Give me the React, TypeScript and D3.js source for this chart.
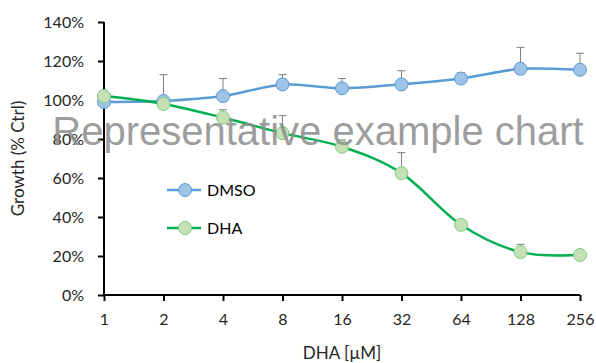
import * as d3 from "d3";
import { useEffect, useRef } from "react";

const doses = ["1", "2", "4", "8", "16", "32", "64", "128", "256"];
const dmsoMean = [99, 99.5, 102, 108, 106, 108, 111, 116, 115.5];
const dmsoErr = [0, 13.5, 9, 5, 5, 7, 3, 11, 8.5];
const dhaMean = [102, 98, 91, 83, 76, 62.5, 36, 22, 20.5];
const dhaErr = [2, 2.5, 4, 9, 3.5, 10.5, 2, 4, 2.5];
const yTicks = [0, 20, 40, 60, 80, 100, 120, 140];

const SERIES = [
  { name: "DMSO", mean: dmsoMean, err: dmsoErr, line: "#5b9bd5", fill: "#9dc3e6", stroke: "#5b9bd5", curve: d3.curveCardinal.tension(0.3) },
  { name: "DHA", mean: dhaMean, err: dhaErr, line: "#00b050", fill: "#c5e0b4", stroke: "#7fcc7f", curve: d3.curveCardinal.tension(0) },
];

const FONT = "Lato, 'Open Sans', sans-serif";

export default function App() {
  const ref = useRef<SVGSVGElement>(null);

  useEffect(() => {
    if (!ref.current) return;
    const svg = d3.select(ref.current);
    svg.selectAll("*").remove();

    const width = 596;
    const height = 363;
    const margin = { top: 22, right: 16, bottom: 68, left: 104 };
    const innerW = width - margin.left - margin.right;
    const innerH = height - margin.top - margin.bottom;

    const x = d3.scalePoint().domain(doses).range([0, innerW]);
    const y = d3.scaleLinear().domain([0, 140]).range([innerH, 0]);

    const g = svg.append("g").attr("transform", `translate(${margin.left},${margin.top})`);

    // axes
    const yAxis = g.append("g").call(
      d3.axisLeft(y).tickValues(yTicks).tickFormat((d) => `${d}%`).tickSize(6).tickPadding(14)
    );
    const xAxis = g
      .append("g")
      .attr("transform", `translate(0,${innerH})`)
      .call(d3.axisBottom(x).tickSize(6).tickPadding(13));
    [yAxis, xAxis].forEach((a) => {
      a.select(".domain").attr("stroke", "#000").attr("stroke-width", 2);
      a.selectAll(".tick line").attr("stroke", "#000").attr("stroke-width", 2);
      a.selectAll("text").style("font-family", FONT).style("font-size", "16px").attr("fill", "#262626");
    });
    xAxis.select(".domain").attr("d", `M0,0H${innerW}`);
    yAxis.select(".domain").attr("d", `M0,0V${innerH}`);

    // error bars (upper only)
    SERIES.forEach((s) => {
      const eg = g.append("g");
      s.mean.forEach((m, i) => {
        const cx = x(doses[i]) ?? 0;
        const top = y(m + s.err[i]);
        eg.append("line").attr("x1", cx).attr("x2", cx).attr("y1", y(m)).attr("y2", top).attr("stroke", "#7f7f7f").attr("stroke-width", 1);
        eg.append("line").attr("x1", cx - 4).attr("x2", cx + 4).attr("y1", top).attr("y2", top).attr("stroke", "#7f7f7f").attr("stroke-width", 1);
      });
    });

    // lines
    SERIES.forEach((s) => {
      const line = d3
        .line<number>()
        .x((_, i) => x(doses[i]) ?? 0)
        .y((d) => y(d))
        .curve(s.curve);
      g.append("path").attr("d", line(s.mean)).attr("fill", "none").attr("stroke", s.line).attr("stroke-width", 2.5);
    });

    // markers
    SERIES.forEach((s) => {
      g.append("g")
        .selectAll("circle")
        .data(s.mean)
        .join("circle")
        .attr("cx", (_, i) => x(doses[i]) ?? 0)
        .attr("cy", (d) => y(d))
        .attr("r", 6.5)
        .attr("fill", s.fill)
        .attr("stroke", s.stroke)
        .attr("stroke-width", 1);
    });

    // legend
    SERIES.forEach((s, i) => {
      const ly = 190 - margin.top + i * 38;
      const lg = g.append("g").attr("transform", `translate(${167 - margin.left},${ly})`);
      lg.append("line").attr("x1", 0).attr("x2", 34).attr("stroke", s.line).attr("stroke-width", 2.5);
      lg.append("circle").attr("cx", 18).attr("r", 6.5).attr("fill", s.fill).attr("stroke", s.stroke);
      lg.append("text").attr("x", 40).attr("dy", "0.35em").text(s.name)
        .style("font-family", FONT).style("font-size", "16px").attr("fill", "#000");
    });

    // axis titles
    svg.append("text")
      .attr("transform", `translate(24,${margin.top + innerH / 2}) rotate(-90)`)
      .attr("text-anchor", "middle")
      .style("font-family", FONT).style("font-size", "17px").attr("fill", "#262626")
      .text("Growth (% Ctrl)");
    svg.append("text")
      .attr("x", margin.left + innerW / 2)
      .attr("y", 359)
      .attr("text-anchor", "middle")
      .style("font-family", FONT).style("font-size", "17px").attr("fill", "#262626")
      .text("DHA [µM]");

    // watermark
    svg.append("text")
      .attr("x", 318)
      .attr("y", 145)
      .attr("text-anchor", "middle")
      .style("font-family", "'Liberation Sans', Arial, sans-serif").style("font-size", "40px")
      .attr("fill", "#8c8c8c").attr("fill-opacity", 0.85)
      .text("Representative example chart");
  }, []);

  return (
    <div style={{ position: "absolute", left: 0, top: 0 }}>
      <svg ref={ref} width={596} height={363} style={{ display: "block", background: "#fff" }} />
    </div>
  );
}
